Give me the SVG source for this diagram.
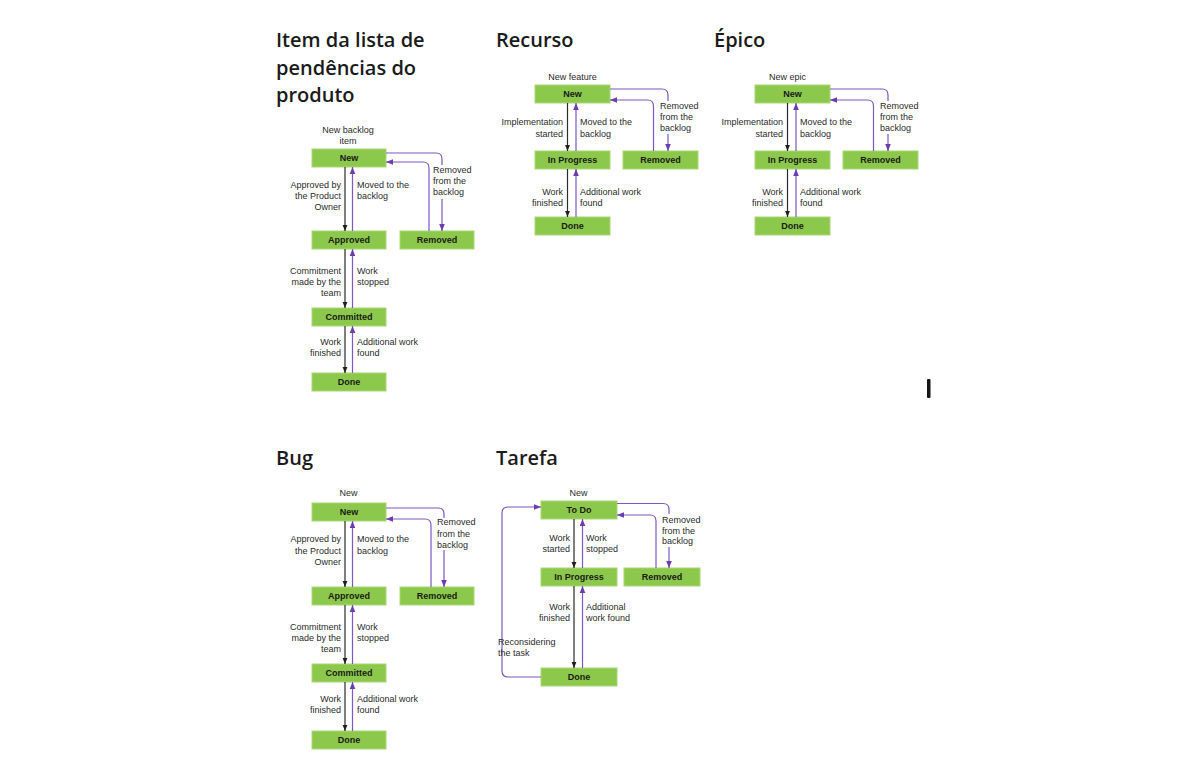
<svg xmlns="http://www.w3.org/2000/svg" width="1200" height="780" viewBox="0 0 1200 780">
<defs>
<style>
.box{fill:#8CC84B;stroke:#A9D874;stroke-width:1}
.bt{font-family:"Liberation Sans",Arial,sans-serif;font-size:9px;font-weight:bold;text-anchor:middle;fill:#1a1a1a}
.lb{font-family:"Liberation Sans",Arial,sans-serif;font-size:9px;fill:#2a2a2a}
.r{text-anchor:end}
.m{text-anchor:middle}
.title{font-family:"Open Sans","Noto Sans",sans-serif;font-size:20px;font-weight:600;fill:#1b1b1b}
.k{stroke:#2b2b2b;stroke-width:1.2;fill:none;marker-end:url(#ak)}
.p{stroke:#7E57C2;stroke-width:1.2;fill:none}
.pa{marker-end:url(#ap)}
</style>
<marker id="ak" viewBox="0 0 10 10" refX="10" refY="5" markerWidth="6" markerHeight="6" orient="auto" markerUnits="userSpaceOnUse"><path d="M0,1 L10,5 L0,9 z" fill="#1e1e1e"/></marker>
<marker id="ap" viewBox="0 0 10 10" refX="10" refY="5" markerWidth="7" markerHeight="7" orient="auto" markerUnits="userSpaceOnUse"><path d="M0,1 L10,5 L0,9 z" fill="#6A3DB0"/></marker>
</defs>
<rect width="1200" height="780" fill="#ffffff"/>

<!-- Diagram 1: Item da lista de pendências do produto -->
<g id="diagram-item">
<text class="title" x="276" y="47">Item da lista de</text>
<text class="title" x="276" y="74.5">pendências do</text>
<text class="title" x="276" y="101.5">produto</text>
<text class="lb m" x="348" y="133">New backlog</text>
<text class="lb m" x="348" y="144">item</text>
<g id="item-new"><rect class="box" x="312" y="149" width="74" height="18"/><text class="bt" x="349" y="161">New</text></g>
<g id="item-approved"><rect class="box" x="312" y="231" width="74" height="18"/><text class="bt" x="349" y="243">Approved</text></g>
<g id="item-committed"><rect class="box" x="312" y="308" width="74" height="18"/><text class="bt" x="349" y="320">Committed</text></g>
<g id="item-done"><rect class="box" x="312" y="373" width="74" height="18"/><text class="bt" x="349" y="385">Done</text></g>
<g id="item-removed"><rect class="box" x="400" y="231" width="74" height="18"/><text class="bt" x="437" y="243">Removed</text></g>
<g id="item-connectors">
<path class="k" d="M345,167 V231"/>
<path class="p pa" d="M352.5,231 V167"/>
<path class="k" d="M345,249 V308"/>
<path class="p pa" d="M352.5,308 V249"/>
<path class="k" d="M345,326 V373"/>
<path class="p pa" d="M352.5,373 V326"/>
<path class="p" d="M386,153 H436 Q442,153 442,159 V165"/>
<path class="p pa" d="M442,199 V231"/>
<path class="p pa" d="M429,231 V168 Q429,162 423,162 H386"/>
</g>
<text class="lb r" x="341" y="188">Approved by</text>
<text class="lb r" x="341" y="199">the Product</text>
<text class="lb r" x="341" y="210">Owner</text>
<text class="lb" x="357" y="188">Moved to the</text>
<text class="lb" x="357" y="199">backlog</text>
<text class="lb" x="433" y="173">Removed</text>
<text class="lb" x="433" y="184">from the</text>
<text class="lb" x="433" y="195">backlog</text>
<text class="lb r" x="341" y="274">Commitment</text>
<text class="lb r" x="341" y="285">made by the</text>
<text class="lb r" x="341" y="296">team</text>
<text class="lb" x="357" y="274">Work</text>
<text class="lb" x="357" y="285">stopped</text>
<text class="lb r" x="341" y="345">Work</text>
<text class="lb r" x="341" y="356">finished</text>
<text class="lb" x="357" y="345">Additional work</text>
<text class="lb" x="357" y="356">found</text>
</g>

<!-- Diagram 2: Recurso -->
<g id="diagram-recurso">
<text class="title" x="496" y="47">Recurso</text>
<text class="lb m" x="572.5" y="80">New feature</text>
<g id="rec-new"><rect class="box" x="535" y="85" width="75" height="18"/><text class="bt" x="572.5" y="97">New</text></g>
<g id="rec-inprogress"><rect class="box" x="535" y="151" width="75" height="18"/><text class="bt" x="572.5" y="163">In Progress</text></g>
<g id="rec-done"><rect class="box" x="535" y="217" width="75" height="18"/><text class="bt" x="572.5" y="229">Done</text></g>
<g id="rec-removed"><rect class="box" x="623" y="151" width="75" height="18"/><text class="bt" x="660.5" y="163">Removed</text></g>
<g id="rec-connectors">
<path class="k" d="M567.5,103 V151"/>
<path class="p pa" d="M576,151 V103"/>
<path class="k" d="M567.5,169 V217"/>
<path class="p pa" d="M576,217 V169"/>
<path class="p" d="M610,89 H662 Q668,89 668,95 V101"/>
<path class="p pa" d="M668,134 V151"/>
<path class="p pa" d="M653.5,151 V106 Q653.5,100 647.5,100 H610"/>
</g>
<text class="lb r" x="563" y="125">Implementation</text>
<text class="lb r" x="563" y="137">started</text>
<text class="lb" x="580" y="125">Moved to the</text>
<text class="lb" x="580" y="137">backlog</text>
<text class="lb" x="660" y="109">Removed</text>
<text class="lb" x="660" y="120">from the</text>
<text class="lb" x="660" y="131">backlog</text>
<text class="lb r" x="563" y="195">Work</text>
<text class="lb r" x="563" y="206">finished</text>
<text class="lb" x="580" y="195">Additional work</text>
<text class="lb" x="580" y="206">found</text>
</g>

<!-- Diagram 3: Épico -->
<g id="diagram-epico">
<text class="title" x="714" y="47">Épico</text>
<text class="lb m" x="787.5" y="80">New epic</text>
<g id="epi-new"><rect class="box" x="755" y="85" width="75" height="18"/><text class="bt" x="792.5" y="97">New</text></g>
<g id="epi-inprogress"><rect class="box" x="755" y="151" width="75" height="18"/><text class="bt" x="792.5" y="163">In Progress</text></g>
<g id="epi-done"><rect class="box" x="755" y="217" width="75" height="18"/><text class="bt" x="792.5" y="229">Done</text></g>
<g id="epi-removed"><rect class="box" x="843" y="151" width="75" height="18"/><text class="bt" x="880.5" y="163">Removed</text></g>
<g id="epi-connectors">
<path class="k" d="M787.5,103 V151"/>
<path class="p pa" d="M796,151 V103"/>
<path class="k" d="M787.5,169 V217"/>
<path class="p pa" d="M796,217 V169"/>
<path class="p" d="M830,89 H882 Q888,89 888,95 V101"/>
<path class="p pa" d="M888,134 V151"/>
<path class="p pa" d="M873.5,151 V106 Q873.5,100 867.5,100 H830"/>
</g>
<text class="lb r" x="783" y="125">Implementation</text>
<text class="lb r" x="783" y="137">started</text>
<text class="lb" x="800" y="125">Moved to the</text>
<text class="lb" x="800" y="137">backlog</text>
<text class="lb" x="880" y="109">Removed</text>
<text class="lb" x="880" y="120">from the</text>
<text class="lb" x="880" y="131">backlog</text>
<text class="lb r" x="783" y="195">Work</text>
<text class="lb r" x="783" y="206">finished</text>
<text class="lb" x="800" y="195">Additional work</text>
<text class="lb" x="800" y="206">found</text>
</g>

<!-- Diagram 4: Bug -->
<g id="diagram-bug">
<text class="title" x="276" y="465">Bug</text>
<text class="lb m" x="348.5" y="496">New</text>
<g id="bug-new"><rect class="box" x="312" y="503" width="74" height="18"/><text class="bt" x="349" y="515">New</text></g>
<g id="bug-approved"><rect class="box" x="312" y="587" width="74" height="18"/><text class="bt" x="349" y="599">Approved</text></g>
<g id="bug-removed"><rect class="box" x="400" y="587" width="74" height="18"/><text class="bt" x="437" y="599">Removed</text></g>
<g id="bug-committed"><rect class="box" x="312" y="664" width="74" height="18"/><text class="bt" x="349" y="676">Committed</text></g>
<g id="bug-done"><rect class="box" x="312" y="731" width="74" height="18"/><text class="bt" x="349" y="743">Done</text></g>
<g id="bug-connectors">
<path class="k" d="M345,521 V587"/>
<path class="p pa" d="M352.5,587 V521"/>
<path class="k" d="M345,605 V664"/>
<path class="p pa" d="M352.5,664 V605"/>
<path class="k" d="M345,682 V731"/>
<path class="p pa" d="M352.5,731 V682"/>
<path class="p" d="M386,508 H438 Q444,508 444,514 V518"/>
<path class="p pa" d="M444,550 V587"/>
<path class="p pa" d="M431,587 V525 Q431,519 425,519 H386"/>
</g>
<text class="lb r" x="341" y="542">Approved by</text>
<text class="lb r" x="341" y="554">the Product</text>
<text class="lb r" x="341" y="565">Owner</text>
<text class="lb" x="357" y="542">Moved to the</text>
<text class="lb" x="357" y="554">backlog</text>
<text class="lb" x="437" y="525">Removed</text>
<text class="lb" x="437" y="537">from the</text>
<text class="lb" x="437" y="548">backlog</text>
<text class="lb r" x="341" y="630">Commitment</text>
<text class="lb r" x="341" y="641">made by the</text>
<text class="lb r" x="341" y="652">team</text>
<text class="lb" x="357" y="630">Work</text>
<text class="lb" x="357" y="641">stopped</text>
<text class="lb r" x="341" y="702">Work</text>
<text class="lb r" x="341" y="713">finished</text>
<text class="lb" x="357" y="702">Additional work</text>
<text class="lb" x="357" y="713">found</text>
</g>

<!-- Diagram 5: Tarefa -->
<g id="diagram-tarefa">
<text class="title" x="496" y="465">Tarefa</text>
<text class="lb m" x="578.5" y="496">New</text>
<g id="tar-todo"><rect class="box" x="541" y="501" width="76" height="18"/><text class="bt" x="579" y="513">To Do</text></g>
<g id="tar-inprogress"><rect class="box" x="541" y="568" width="76" height="18"/><text class="bt" x="579" y="580">In Progress</text></g>
<g id="tar-done"><rect class="box" x="541" y="668" width="76" height="18"/><text class="bt" x="579" y="680">Done</text></g>
<g id="tar-removed"><rect class="box" x="624" y="568" width="76" height="18"/><text class="bt" x="662" y="580">Removed</text></g>
<g id="tar-connectors">
<path class="k" d="M574,519 V568"/>
<path class="p pa" d="M582.5,568 V519"/>
<path class="k" d="M574,586 V668"/>
<path class="p pa" d="M582.5,668 V586"/>
<path class="p" d="M617,503.5 H663 Q669,503.5 669,509.5 V514"/>
<path class="p pa" d="M669,547 V568"/>
<path class="p pa" d="M656,568 V521 Q656,515 650,515 H617"/>
<path class="p pa" d="M541,677 H508 Q502,677 502,671 V513 Q502,507 508,507 H541"/>
</g>
<text class="lb r" x="570" y="541">Work</text>
<text class="lb r" x="570" y="552">started</text>
<text class="lb" x="586" y="541">Work</text>
<text class="lb" x="586" y="552">stopped</text>
<text class="lb" x="662" y="523">Removed</text>
<text class="lb" x="662" y="534">from the</text>
<text class="lb" x="662" y="544">backlog</text>
<text class="lb r" x="570" y="610">Work</text>
<text class="lb r" x="570" y="621">finished</text>
<text class="lb" x="586" y="610">Additional</text>
<text class="lb" x="586" y="621">work found</text>
<text class="lb" x="498" y="645">Reconsidering</text>
<text class="lb" x="498" y="656">the task</text>
</g>

<!-- stray cursor mark -->
<rect x="927" y="379" width="3.5" height="19" rx="1" fill="#151515"/>
</svg>
